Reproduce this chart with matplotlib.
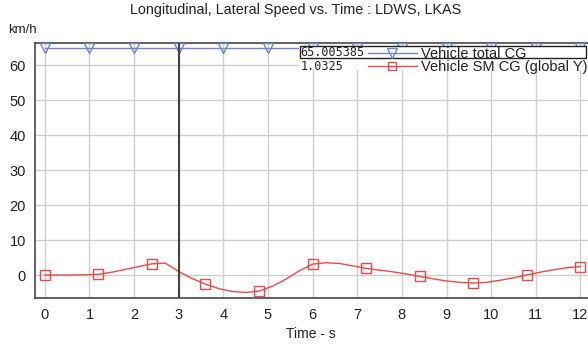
import matplotlib
matplotlib.use("Agg")
import matplotlib.pyplot as plt
from matplotlib.patches import Rectangle
from matplotlib.lines import Line2D

# ---- data ----
title = "Longitudinal, Lateral Speed vs. Time : LDWS, LKAS"
x_label = "Time - s"
y_unit = "km/h"
series1_name = "Vehicle total CG"
series2_name = "Vehicle SM CG (global Y)"
cursor_t = 3.0
cursor_val1 = "65.005385"
cursor_val2 = "1.0325"

t1 = [0, 1, 2, 3, 4, 5, 6, 7, 8, 9, 10, 11, 12]
v1 = [65.005385] * 13

t2 = [0.0, 0.3, 0.6, 0.9, 1.2, 1.5, 1.8, 2.1, 2.4, 2.7, 3.0, 3.3, 3.6, 3.9,
      4.2, 4.5, 4.8, 5.1, 5.4, 5.7, 6.0, 6.3, 6.6, 6.9, 7.2, 7.5, 7.8, 8.1,
      8.4, 8.7, 9.0, 9.3, 9.6, 9.9, 10.2, 10.5, 10.8, 11.1, 11.4, 11.7, 12.0]
v2 = [0.0, 0.0, 0.0, 0.05, 0.2, 0.8, 1.6, 2.4, 3.2, 3.4, 1.0, -1.0, -2.6, -3.9,
      -4.7, -5.0, -4.6, -3.2, -1.2, 1.2, 3.1, 3.5, 3.3, 2.6, 1.9, 1.4, 0.9, 0.3,
      -0.4, -1.1, -1.7, -2.1, -2.3, -2.1, -1.5, -0.8, 0.0, 0.8, 1.5, 2.1, 2.4]
marker_every2 = 4

xticks = list(range(0, 13))
yticks = [0, 10, 20, 30, 40, 50, 60]

blue = "#6f84d4"
red = "#f04848"

plt.rcParams['font.family'] = ['Liberation Sans', 'DejaVu Sans']

fig = plt.figure(figsize=(5.88, 3.48), dpi=100)
W, H = 588, 348
ax = fig.add_axes([35 / W, 1 - 298 / H, (588 - 35) / W, (298 - 43) / H])

ax.set_xlim(-0.22, 12.17)
ax.set_ylim(-6.57, 66.3)
ax.set_xticks(xticks)
ax.set_yticks(yticks)
ax.tick_params(length=0, labelsize=10.5, colors="#222222")
ax.tick_params(axis='y', pad=6.5)
ax.tick_params(axis='x', pad=7.5)
ax.grid(True, color="#cfcfcf", linewidth=1.0)
ax.set_axisbelow(True)
for s in ["top", "left", "bottom"]:
    ax.spines[s].set_color("#555555")
    ax.spines[s].set_linewidth(1.3)
ax.spines["right"].set_visible(False)

ax.plot(t1, v1, color=blue, lw=1.0, marker="v", markersize=7,
        markerfacecolor="none", markeredgecolor=blue, markeredgewidth=1.0, zorder=3)
ax.plot(t2, v2, color=red, lw=1.0, marker="s", markersize=7, markevery=marker_every2,
        markerfacecolor="none", markeredgecolor=red, markeredgewidth=1.0, zorder=3)

ax.axvline(cursor_t, color="#444444", lw=1.5, zorder=4)

# legend block (figure pixel layout)
def fx(px):
    return px / W

def fy(py):
    return 1 - py / H

fig.patches.append(Rectangle((fx(299), fy(70)), fx(588) - fx(299), fy(46) - fy(70),
                             transform=fig.transFigure, facecolor="white",
                             edgecolor="none", zorder=5))
fig.patches.append(Rectangle((fx(300), fy(58)), fx(586) - fx(300), fy(46) - fy(58),
                             transform=fig.transFigure, facecolor="none",
                             edgecolor="#222222", lw=1.0, zorder=6))
fig.text(fx(300), fy(53), cursor_val1, family="DejaVu Sans Mono", fontsize=8.5,
         va="center", ha="left", color="#222222", zorder=7)
fig.text(fx(301), fy(66), cursor_val2, family="DejaVu Sans Mono", fontsize=8.5,
         va="center", ha="left", color="#222222", zorder=7)
fig.lines.append(Line2D([fx(368), fx(417)], [fy(52.5), fy(52.5)], transform=fig.transFigure,
                        color=blue, lw=1.0, zorder=7))
fig.lines.append(Line2D([fx(392)], [fy(52.5)], transform=fig.transFigure, marker="v",
                        markersize=7, markerfacecolor="none", markeredgecolor=blue, zorder=7))
fig.lines.append(Line2D([fx(368), fx(417)], [fy(65.5), fy(65.5)], transform=fig.transFigure,
                        color=red, lw=1.0, zorder=7))
fig.lines.append(Line2D([fx(392)], [fy(65.5)], transform=fig.transFigure, marker="s",
                        markersize=6, markerfacecolor="none", markeredgecolor=red, zorder=7))
fig.text(fx(421), fy(54), series1_name, fontsize=10.5, va="center", ha="left",
         color="#222222", zorder=7)
fig.text(fx(421), fy(67), series2_name, fontsize=10.5, va="center", ha="left",
         color="#222222", zorder=7)

fig.text(fx(296), fy(10), title, fontsize=10.4, ha="center", va="center", color="#222222")
fig.text(fx(8), fy(30), y_unit, fontsize=9.5, ha="left", va="center", color="#222222")
fig.text(fx(311), fy(334), x_label, fontsize=10, ha="center", va="center", color="#222222")

fig.savefig("out.png", dpi=100)
